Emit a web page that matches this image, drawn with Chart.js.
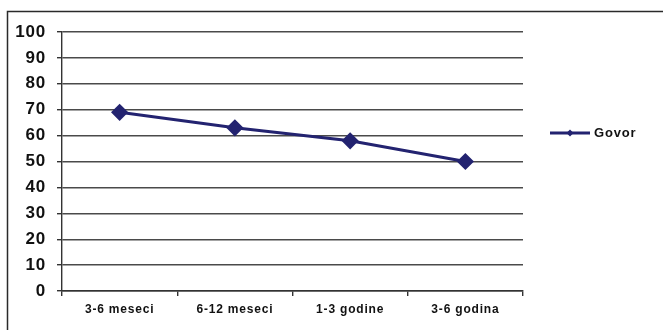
<!DOCTYPE html>
<html>
<head>
<meta charset="utf-8">
<script src="https://cdn.jsdelivr.net/npm/chart.js@4/dist/chart.umd.min.js"></script>
<style>
  html, body { margin: 0; padding: 0; background: #fff; }
  #wrap { position: relative; width: 663px; height: 330px; }
</style>
</head>
<body>
<div id="wrap"><canvas id="c" width="663" height="330"></canvas></div>
<script>
// Age groups on the category axis
const categories = ['3-6 meseci', '6-12 meseci', '1-3 godine', '3-6 godina'];
// Percentage values for speech ("Govor")
const govor = [69, 63, 58, 50];
const seriesName = 'Govor';
// Value axis range
const yMin = 0, yMax = 100, yStep = 10;

const navy = '#232370';
const gridCol = '#4a4a4a';
const axisCol = '#333333';
const font = "'Liberation Sans', Arial, sans-serif";

// Frame around the whole figure and the side legend
const framePlugin = {
  id: 'frame',
  beforeDraw(chart) {
    const ctx = chart.ctx;
    ctx.save();
    ctx.fillStyle = '#fff';
    ctx.fillRect(0, 0, chart.width, chart.height);
    ctx.strokeStyle = '#2a2a2a';
    ctx.lineWidth = 1.5;
    ctx.beginPath();
    ctx.moveTo(7.5, chart.height + 2);
    ctx.lineTo(7.5, 11.5);
    ctx.lineTo(chart.width + 2, 11.5);
    ctx.stroke();
    ctx.restore();
    // slightly tracked lettering for all labels
    if ('letterSpacing' in ctx) ctx.letterSpacing = '0.8px';
  },
  afterDraw(chart) {
    const ctx = chart.ctx;
    const ds = chart.data.datasets[0];
    const y = 133, x0 = 550, x1 = 590;
    ctx.save();
    ctx.strokeStyle = ds.borderColor;
    ctx.lineWidth = 3;
    ctx.beginPath();
    ctx.moveTo(x0, y);
    ctx.lineTo(x1, y);
    ctx.stroke();
    const cx = (x0 + x1) / 2, r = 3.5;
    ctx.fillStyle = ds.pointBackgroundColor;
    ctx.beginPath();
    ctx.moveTo(cx, y - r);
    ctx.lineTo(cx + r, y);
    ctx.lineTo(cx, y + r);
    ctx.lineTo(cx - r, y);
    ctx.closePath();
    ctx.fill();
    ctx.fillStyle = '#111';
    ctx.font = 'bold 13px ' + font;
    ctx.textBaseline = 'middle';
    ctx.textAlign = 'left';
    ctx.fillText(ds.label, x1 + 4, y + 0.5);
    ctx.restore();
  }
};

new Chart(document.getElementById('c'), {
  type: 'line',
  data: {
    labels: categories,
    datasets: [{
      label: seriesName,
      data: govor,
      borderColor: navy,
      backgroundColor: navy,
      pointBackgroundColor: navy,
      pointBorderColor: navy,
      borderWidth: 3,
      pointStyle: 'rectRot',
      pointRadius: 6.5,
      pointHoverRadius: 6.5,
      tension: 0
    }]
  },
  options: {
    responsive: false,
    animation: false,
    devicePixelRatio: 1,
    layout: { padding: { left: 0, top: 32, right: 140, bottom: 0 } },
    plugins: {
      legend: { display: false },
      tooltip: { enabled: false },
      title: { display: false }
    },
    scales: {
      x: {
        offset: true,
        grid: {
          offset: true,
          drawOnChartArea: true,
          color: c => (c.index === categories.length ? axisCol : 'transparent'),
          tickColor: axisCol,
          tickLength: 5,
          lineWidth: 1.4
        },
        border: { display: true, color: axisCol, width: 1.4 },
        ticks: {
          color: '#111',
          font: { family: font, size: 12, weight: 'bold' },
          padding: 6,
          maxRotation: 0,
          autoSkip: false
        },
        afterFit: s => { s.height = 39; }
      },
      y: {
        min: yMin,
        max: yMax,
        ticks: {
          stepSize: yStep,
          color: '#111',
          font: { family: font, size: 17, weight: 'bold' },
          padding: 11
        },
        grid: {
          color: gridCol,
          tickColor: axisCol,
          tickLength: 5,
          lineWidth: 1.4
        },
        border: { display: true, color: axisCol, width: 1.4 },
        afterFit: s => { s.width = 62; }
      }
    }
  },
  plugins: [framePlugin]
});
</script>
</body>
</html>
